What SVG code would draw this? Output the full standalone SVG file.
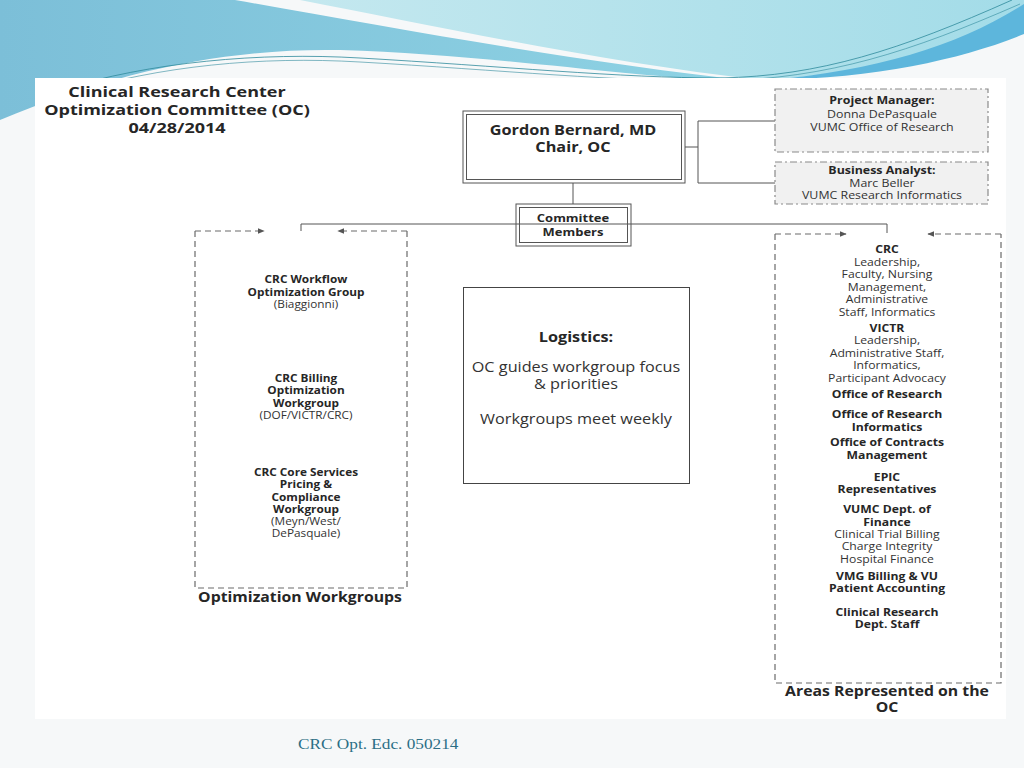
<svg xmlns="http://www.w3.org/2000/svg" width="1024" height="768" viewBox="0 0 1024 768">
<defs>
<linearGradient id="blueL" x1="0" y1="0" x2="1" y2="0">
<stop offset="0" stop-color="#7cbfd8"/><stop offset="1" stop-color="#8fd3e4"/>
</linearGradient>
<linearGradient id="cyanR" x1="0" y1="0" x2="1" y2="0">
<stop offset="0" stop-color="#c4e8ef"/><stop offset="1" stop-color="#a3dce8"/>
</linearGradient>
<linearGradient id="boxg" x1="0" y1="0" x2="0" y2="1">
<stop offset="0" stop-color="#f7f7f7"/><stop offset="1" stop-color="#e2e2e2"/>
</linearGradient>
<marker id="ah" viewBox="0 0 10 10" refX="9" refY="5" markerWidth="7" markerHeight="7" orient="auto" markerUnits="userSpaceOnUse">
<path d="M0,1 L10,5 L0,9 z" fill="#555"/>
</marker>
<style>
text{font-family:"Open Sans","Liberation Sans",sans-serif;fill:#333;text-anchor:middle}
.b{font-weight:bold;fill:#262626}
.s10{font-size:10px}
.s105{font-size:10.5px}
.dash{fill:none;stroke:#6a6a6a;stroke-width:1.2;stroke-dasharray:6 4}
.dd{fill:#f1f1f1;stroke:#8a8a8a;stroke-width:1.2;stroke-dasharray:7 3 2 3}
.ln{fill:none;stroke:#555;stroke-width:1}
.dbl{fill:none;stroke:#555;stroke-width:1}
</style>
</defs>
<!-- background -->
<rect x="0" y="0" width="1024" height="768" fill="#f6f8f9"/>
<path d="M0,0 L235,0 C380,25 560,60 760,82 L0,120 z" fill="url(#blueL)"/>
<path d="M0,120 C120,70 230,48 340,50 C480,54 600,74 760,84 L760,110 L0,130 z" fill="#f6f8f9"/>
<path d="M300,0 L1024,0 L1024,20 C940,55 860,75 760,80 C600,62 430,25 300,0 z" fill="url(#cyanR)"/>
<path d="M1024,4 C960,45 880,70 770,80 C880,78 965,58 1024,34 z" fill="#5db6dc"/>
<path d="M60,90 C150,62 260,52 360,58 C500,66 620,78 720,78 C820,76 900,50 1012,0" fill="none" stroke="#2f8a9c" stroke-width="0.8"/>
<path d="M70,93 C160,66 260,56 360,62 C500,70 620,82 720,81 C830,78 910,52 1020,4" fill="none" stroke="#2f8a9c" stroke-width="0.6"/>
<rect x="35" y="78" width="971" height="641" fill="#ffffff"/>

<!-- title -->
<g id="title" transform="matrix(1.2,0,0,1,-35.4,0)">
<text class="b" x="177" y="97" style="font-size:15px">Clinical Research Center</text>
<text class="b" x="177" y="115" style="font-size:15px">Optimization Committee (OC)</text>
<text class="b" x="177" y="133" style="font-size:15px">04/28/2014</text>
</g>

<!-- connectors -->
<g id="connectors">
<path class="ln" d="M685,147 H698 M698,121 V183 M698,121 H775 M698,183 H775"/>
<path class="ln" d="M573,183 V204"/>
<path class="ln" d="M301,231 V224 H887 V233"/>
<path class="dash" d="M195,231 H264" marker-end="url(#ah)"/>
<path class="dash" d="M407,231 H338" marker-end="url(#ah)"/>
<path class="dash" d="M775,234 H846" marker-end="url(#ah)"/>
<path class="dash" d="M1001,234 H928" marker-end="url(#ah)"/>
</g>

<!-- chair -->
<g id="chair">
<rect x="463" y="111" width="222" height="72" fill="url(#boxg)" class="dbl"/>
<rect x="466.5" y="114.5" width="215" height="65" class="dbl"/>
<g transform="matrix(1.16,0,0,1,-91.68,0)">
<text class="b" x="573" y="135" style="font-size:14px">Gordon Bernard, MD</text>
<text class="b" x="573" y="152" style="font-size:14px">Chair, OC</text>
</g>
</g>

<!-- project manager -->
<g id="project-manager">
<rect x="775" y="89" width="213" height="63" class="dd"/>
<g transform="matrix(1.18,0,0,1,-158.76,0)">
<text class="b s105" x="882" y="104">Project Manager:</text>
<text class="s105" x="882" y="118">Donna DePasquale</text>
<text class="s105" x="882" y="131">VUMC Office of Research</text>
</g>
</g>

<!-- business analyst -->
<g id="business-analyst">
<rect x="775" y="162" width="213" height="42" class="dd"/>
<g transform="matrix(1.18,0,0,1,-158.76,0)">
<text class="b s105" x="882" y="174">Business Analyst:</text>
<text class="s105" x="882" y="187">Marc Beller</text>
<text class="s105" x="882" y="199">VUMC Research Informatics</text>
</g>
</g>

<!-- committee members -->
<g id="committee-members">
<rect x="516" y="204" width="115" height="42" fill="url(#boxg)" class="dbl"/>
<rect x="519.5" y="207.5" width="108" height="35" class="dbl"/>
<g transform="matrix(1.18,0,0,1,-103.14,0)">
<text class="b" x="573" y="222" style="font-size:11px">Committee</text>
<text class="b" x="573" y="236" style="font-size:11px">Members</text>
</g>
</g>

<!-- optimization workgroups -->
<g id="optimization-workgroups">
<path class="dash" d="M195,231 V588 H407 V231"/>
<g transform="matrix(1.18,0,0,1,-55.08,0)">
<text class="b s10" x="306" y="283">CRC Workflow</text>
<text class="b s10" x="306" y="296">Optimization Group</text>
<text class="s10" x="306" y="308">(Biaggionni)</text>
<text class="b s10" x="306" y="382">CRC Billing</text>
<text class="b s10" x="306" y="394">Optimization</text>
<text class="b s10" x="306" y="407">Workgroup</text>
<text class="s10" x="306" y="419">(DOF/VICTR/CRC)</text>
<text class="b s10" x="306" y="476">CRC Core Services</text>
<text class="b s10" x="306" y="488">Pricing &amp;</text>
<text class="b s10" x="306" y="501">Compliance</text>
<text class="b s10" x="306" y="513">Workgroup</text>
<text class="s10" x="306" y="525">(Meyn/West/</text>
<text class="s10" x="306" y="537">DePasquale)</text>
</g>
<g transform="matrix(1.17,0,0,1,-51,0)">
<text class="b" x="300" y="602" style="font-size:13.5px">Optimization Workgroups</text>
</g>
</g>

<!-- logistics -->
<g id="logistics">
<rect x="463.5" y="287.5" width="226" height="196" fill="#ffffff" stroke="#444" stroke-width="1"/>
<g transform="matrix(1.16,0,0,1,-92.16,0)">
<text class="b" x="576" y="342" style="font-size:14px">Logistics:</text>
<text x="576" y="372" style="font-size:14px">OC guides workgroup focus</text>
<text x="576" y="389" style="font-size:14px">&amp; priorities</text>
<text x="576" y="424" style="font-size:14px">Workgroups meet weekly</text>
</g>
</g>

<!-- areas represented -->
<g id="areas-represented">
<path class="dash" d="M775,234 V683 H1001 V234"/>
<g transform="matrix(1.22,0,0,1,-195.14,0)">
<text class="b s10" x="887" y="253">CRC</text>
<text class="s10" x="887" y="266">Leadership,</text>
<text class="s10" x="887" y="278">Faculty, Nursing</text>
<text class="s10" x="887" y="291">Management,</text>
<text class="s10" x="887" y="303">Administrative</text>
<text class="s10" x="887" y="316">Staff, Informatics</text>
<text class="b s10" x="887" y="332">VICTR</text>
<text class="s10" x="887" y="344">Leadership,</text>
<text class="s10" x="887" y="357">Administrative Staff,</text>
<text class="s10" x="887" y="369">Informatics,</text>
<text class="s10" x="887" y="382">Participant Advocacy</text>
<text class="b s10" x="887" y="398">Office of Research</text>
<text class="b s10" x="887" y="418">Office of Research</text>
<text class="b s10" x="887" y="431">Informatics</text>
<text class="b s10" x="887" y="446">Office of Contracts</text>
<text class="b s10" x="887" y="459">Management</text>
<text class="b s10" x="887" y="481">EPIC</text>
<text class="b s10" x="887" y="493">Representatives</text>
<text class="b s10" x="887" y="513">VUMC Dept. of</text>
<text class="b s10" x="887" y="526">Finance</text>
<text class="s10" x="887" y="538">Clinical Trial Billing</text>
<text class="s10" x="887" y="550">Charge Integrity</text>
<text class="s10" x="887" y="563">Hospital Finance</text>
<text class="b s10" x="887" y="580">VMG Billing &amp; VU</text>
<text class="b s10" x="887" y="592">Patient Accounting</text>
<text class="b s10" x="887" y="616">Clinical Research</text>
<text class="b s10" x="887" y="628">Dept. Staff</text>
</g>
<g transform="matrix(1.17,0,0,1,-150.79,0)">
<text class="b" x="887" y="696" style="font-size:13.5px">Areas Represented on the</text>
<text class="b" x="887" y="712" style="font-size:13.5px">OC</text>
</g>
</g>

<!-- footer -->
<g id="footer" transform="matrix(1.15,0,0,1,-44.7,0)">
<text x="298" y="749" style="font-family:'Liberation Serif','DejaVu Serif',serif;font-size:15px;fill:#2b6e85;text-anchor:start">CRC Opt. Edc. 050214</text>
</g>
</svg>
